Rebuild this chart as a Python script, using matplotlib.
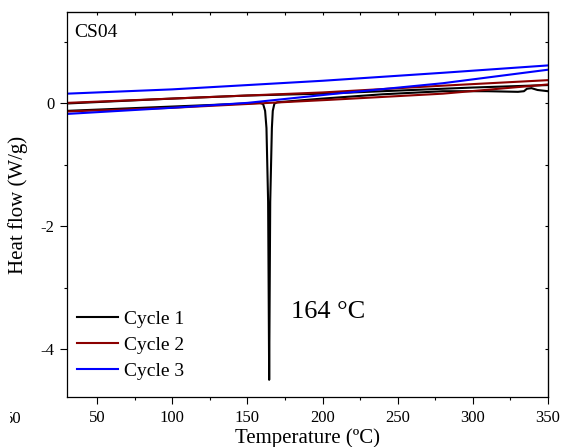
import matplotlib
matplotlib.use("Agg")
import matplotlib.pyplot as plt
from matplotlib.ticker import MultipleLocator
from matplotlib.transforms import Bbox, TransformedBbox

plt.rcParams['font.family'] = ['Liberation Serif', 'DejaVu Serif']
plt.rcParams['axes.unicode_minus'] = False

# DSC curves, heat flow (W/g) vs temperature (C); each cycle has a heating and a cooling branch
cycle1_heat_T = [30, 60, 100, 130, 158.5, 160.5, 161.8, 162.7, 163.8, 164.2, 164.5,
                 164.8, 165.2, 166.3, 166.9, 168, 170, 200, 240, 280, 310, 330,
                 334, 336, 339, 343, 350]
cycle1_heat_q = [-0.12, -0.09, -0.05, -0.02, 0.01, -0.01, -0.12, -0.4, -1.6, -3.2, -4.5,
                 -3.2, -1.6, -0.4, -0.12, 0.0, 0.02, 0.08, 0.15, 0.2, 0.2, 0.19,
                 0.2, 0.24, 0.25, 0.22, 0.2]
cycle1_cool_T = [30, 100, 150, 200, 250, 300, 350]
cycle1_cool_q = [0.0, 0.08, 0.13, 0.16, 0.21, 0.26, 0.3]

cycle2_a_T = [30, 100, 200, 280, 350]
cycle2_a_q = [0.01, 0.08, 0.18, 0.29, 0.38]
cycle2_b_T = [30, 100, 205, 280, 350]
cycle2_b_q = [-0.13, -0.07, 0.06, 0.16, 0.31]

cycle3_a_T = [30, 100, 200, 280, 350]
cycle3_a_q = [0.16, 0.23, 0.37, 0.5, 0.62]
cycle3_b_T = [30, 100, 150, 205, 280, 350]
cycle3_b_q = [-0.17, -0.07, 0.01, 0.15, 0.33, 0.55]

peak_T = 164
sample = "CS04"

fig = plt.figure(figsize=(5.61, 4.47), dpi=100)
ax = fig.add_axes([67 / 561, 1 - 397 / 447, 481 / 561, 385 / 447])

c1, c2, c3 = 'black', '#8B0000', '#0000FF'
lw = 1.5
ax.plot(cycle1_heat_T, cycle1_heat_q, color=c1, lw=lw, label='Cycle 1')
ax.plot(cycle1_cool_T, cycle1_cool_q, color=c1, lw=lw)
ax.plot(cycle2_a_T, cycle2_a_q, color=c2, lw=lw, label='Cycle 2')
ax.plot(cycle2_b_T, cycle2_b_q, color=c2, lw=lw)
ax.plot(cycle3_a_T, cycle3_a_q, color=c3, lw=lw, label='Cycle 3')
ax.plot(cycle3_b_T, cycle3_b_q, color=c3, lw=lw)

ax.set_xlim(30, 350)
ax.set_ylim(-4.78, 1.49)

ax.xaxis.set_major_locator(MultipleLocator(50))
ax.xaxis.set_minor_locator(MultipleLocator(25))
ax.yaxis.set_major_locator(MultipleLocator(2))
ax.yaxis.set_minor_locator(MultipleLocator(1))
ax.tick_params(which='major', direction='out', length=5, width=0.8, labelsize=12, pad=4)
ax.tick_params(which='minor', direction='out', length=2.5, width=0.8)

# inward ticks on top and right
top = ax.secondary_xaxis('top')
top.xaxis.set_major_locator(MultipleLocator(50))
top.xaxis.set_minor_locator(MultipleLocator(25))
top.tick_params(which='both', direction='in', length=2.5, width=0.8, labeltop=False)
right = ax.secondary_yaxis('right')
right.yaxis.set_major_locator(MultipleLocator(2))
right.yaxis.set_minor_locator(MultipleLocator(1))
right.tick_params(which='both', direction='in', length=2.5, width=0.8, labelright=False)

for s in ax.spines.values():
    s.set_linewidth(0.9)

ax.set_xlabel('Temperature (ºC)', fontsize=15)
ax.set_ylabel('Heat flow (W/g)', fontsize=15)
ax.xaxis.set_label_coords(0.5, -0.08)
ax.xaxis.label.set_va('top')
ax.yaxis.set_label_coords(-0.081, 0.5)

ax.text(34.7, 1.15, sample, fontsize=14, ha='left', va='center')
ax.text(178.7, -3.39, f'{peak_T} °C', fontsize=19, ha='left', va='center')

ax.legend(loc='upper left', bbox_to_anchor=(0.021, 0.225), frameon=False,
          fontsize=14, handlelength=2.1, handletextpad=0.3, labelspacing=0.42,
          borderpad=0, borderaxespad=0)

# stray tick label at the left edge
t = fig.text(22 / 561, 1 - 419 / 447, '50', fontsize=12, ha='right', va='center')
t.set_clip_box(TransformedBbox(Bbox([[10 / 561, 0], [1, 1]]), fig.transFigure))
t.set_clip_on(True)

fig.savefig('out.png', dpi=100)
